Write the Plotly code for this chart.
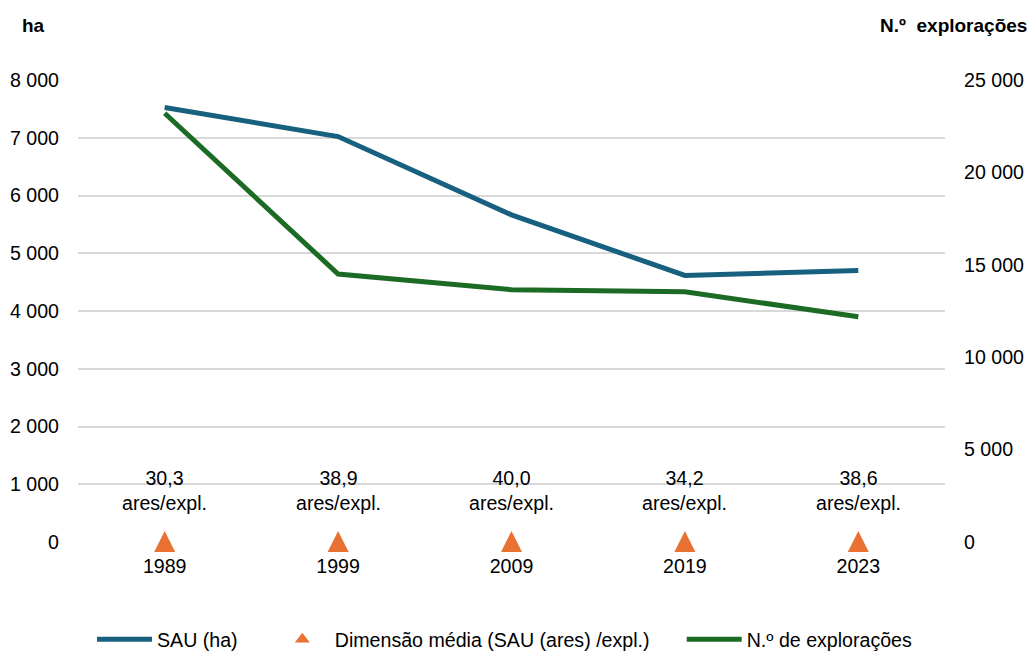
import plotly.graph_objects as go

years = ["1989", "1999", "2009", "2019", "2023"]
sau_ha = [7525, 7020, 5665, 4615, 4700]
n_exploracoes = [23200, 14500, 13650, 13540, 12190]
dim_media_labels = ["30,3", "38,9", "40,0", "34,2", "38,6"]
dim_media_zero = [0, 0, 0, 0, 0]

BLUE = "#17607F"
GREEN = "#1C6B25"
ORANGE = "#E97132"
FONT = "Liberation Sans, Arial, sans-serif"
FS = 19.6
PAD = "\u00a0" * 5
DIM_NAME = "Dimensão média (SAU (ares) /expl.)"

L, R, T, B = 78, 86, 80, 110.5
W, H = 1031, 653
PW, PH = W - L - R, H - T - B

fig = go.Figure()
fig.add_trace(go.Scatter(
    x=years, y=sau_ha, name="SAU (ha)" + PAD, mode="lines",
    line=dict(color=BLUE, width=5), yaxis="y"))
fig.add_trace(go.Scatter(
    x=years, y=dim_media_zero, name=DIM_NAME, legendgroup="dim", showlegend=False,
    mode="markers",
    marker=dict(symbol="arrow-down", size=21, angle=180, standoff=11, color=ORANGE),
    cliponaxis=False, yaxis="y"))
# legend entry for the triangles
fig.add_trace(go.Scatter(
    x=[None], y=[None], name=DIM_NAME + PAD, legendgroup="dim", showlegend=True,
    mode="markers", marker=dict(symbol="triangle-up", size=13, color=ORANGE),
    yaxis="y"))
fig.add_trace(go.Scatter(
    x=years, y=n_exploracoes, name="N.º de explorações", mode="lines",
    line=dict(color=GREEN, width=5), yaxis="y2"))

for i, lab in enumerate(dim_media_labels):
    fig.add_annotation(x=i, y=0, xref="x", yref="y", text=lab + "<br>ares/expl.",
                       showarrow=False, yanchor="bottom", yshift=26,
                       font=dict(size=FS, color="#000000", family=FONT))

fig.add_annotation(x=(20 - L) / PW, y=(H - B - 25) / PH, xref="paper", yref="paper",
                   text="<b>ha</b>", showarrow=False, xanchor="left", yanchor="middle",
                   font=dict(size=19, color="#000000", family=FONT))
fig.add_annotation(x=(1029 - L) / PW, y=(H - B - 25) / PH, xref="paper", yref="paper",
                   text="<b>N.º  explorações</b>", showarrow=False,
                   xanchor="right", yanchor="middle",
                   font=dict(size=19, color="#000000", family=FONT))

fig.update_layout(
    width=W, height=H,
    margin=dict(l=L, r=R, t=T, b=B, autoexpand=False),
    paper_bgcolor="white", plot_bgcolor="white",
    font=dict(family=FONT, size=FS, color="#000000"),
    showlegend=True,
    legend=dict(orientation="h", x=(92 - L) / PW, xanchor="left",
                y=(H - B - 640) / PH, yanchor="middle",
                font=dict(size=FS, family=FONT), itemwidth=55,
                traceorder="normal"),
    xaxis=dict(type="category", range=[-0.5, 4.5], showgrid=False, showline=False,
               zeroline=False, ticks="", tickfont=dict(size=FS),
               ticklabelstandoff=10),
    yaxis=dict(range=[0, 8000], dtick=1000, tickformat=",", gridcolor="#D9D9D9",
               gridwidth=1.5, zeroline=False, showline=False, ticks="",
               tickfont=dict(size=FS), ticklabelstandoff=18),
    yaxis2=dict(range=[0, 25000], dtick=5000, tickformat=",", overlaying="y",
                side="right", showgrid=False, zeroline=False, showline=False,
                ticks="", tickfont=dict(size=FS), ticklabelstandoff=18),
    separators=", ",
)

fig.write_html("out.html", config={"displayModeBar": False},
               post_script="document.body.style.margin='0';document.body.style.padding='0';")
